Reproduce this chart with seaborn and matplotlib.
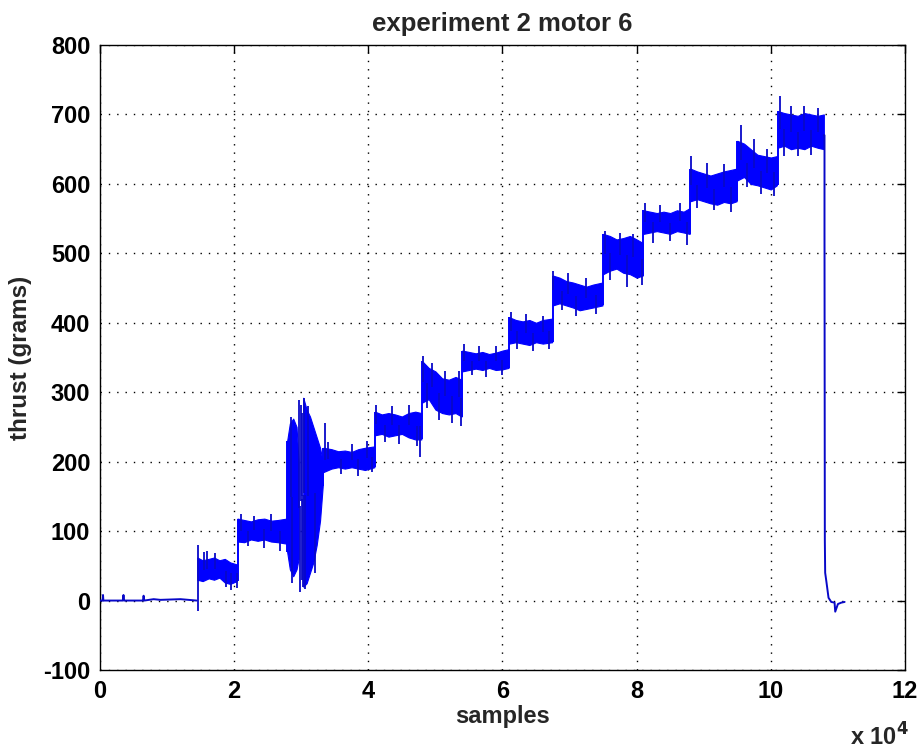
import numpy as np
import pandas as pd
import matplotlib
matplotlib.use("Agg")
import matplotlib.pyplot as plt
import seaborn as sns

# ---------------- data ----------------
# flat idle trace at the start (samples, grams)
idle_x = [0, 400, 450, 500, 3400, 3500, 3600, 6400, 6500, 6600, 8000, 9000, 12000, 14400]
idle_y = [0, 0, 8, 0, 0, 8, 0, 0, 7, 0, 2, 1, 2, 0]

# noisy band envelope per thrust level (x in thousands of samples)
env_level = [1] * 8 + [2] * 8 + [3] * 5 + [4] * 7 + [5] * 8 + [6] * 8 + [7] * 7 + \
            [8] * 8 + [9] * 7 + [10] * 8 + [11] * 7 + [12] * 8 + [13] * 8 + [14] * 7 + [15] * 8
env_kx = [14.5, 15.3, 16.2, 17.0, 17.8, 18.6, 19.4, 20.4,
          20.5, 21.5, 22.5, 23.5, 24.5, 25.5, 26.5, 27.8,
          27.9, 28.3, 28.8, 29.3, 29.6,
          30.3, 30.8, 31.3, 31.8, 32.3, 32.8, 33.2,
          33.3, 34.5, 35.5, 36.5, 37.5, 38.5, 39.5, 40.9,
          41.0, 42.0, 43.0, 44.0, 45.0, 46.0, 47.0, 47.9,
          48.0, 49.0, 50.0, 51.0, 52.0, 53.0, 53.9,
          54.0, 55.0, 56.0, 57.0, 58.0, 59.0, 60.0, 60.9,
          61.0, 62.0, 63.0, 64.0, 65.0, 66.0, 67.4,
          67.5, 68.5, 69.5, 70.5, 71.5, 72.5, 73.5, 74.9,
          75.0, 76.0, 77.0, 78.0, 79.0, 80.0, 80.9,
          81.0, 82.0, 83.0, 84.0, 85.0, 86.0, 87.0, 87.9,
          88.0, 89.0, 90.0, 91.0, 92.0, 93.0, 94.0, 94.9,
          95.0, 96.0, 97.0, 98.0, 99.0, 100.0, 100.9,
          101.0, 102.0, 103.0, 104.0, 105.0, 106.0, 107.0, 107.9]
env_lo = [30, 28, 32, 30, 33, 26, 24, 28,
          85, 84, 88, 86, 88, 85, 84, 82,
          70, 45, 35, 45, 60,
          20, 25, 40, 55, 80, 115, 165,
          185, 190, 192, 190, 192, 190, 188, 192,
          238, 240, 236, 238, 240, 235, 232, 232,
          285, 290, 275, 270, 268, 270, 265,
          330, 332, 334, 332, 335, 332, 333, 335,
          370, 372, 370, 368, 372, 370, 372,
          425, 428, 425, 422, 418, 420, 422, 425,
          470, 475, 478, 472, 470, 465, 468,
          528, 530, 532, 530, 528, 532, 530, 528,
          575, 578, 575, 572, 570, 574, 572, 575,
          605, 610, 600, 598, 595, 592, 598,
          652, 655, 650, 652, 650, 655, 652, 650]
env_hi = [62, 58, 60, 62, 58, 60, 55, 52,
          118, 116, 114, 117, 118, 115, 116, 118,
          230, 255, 262, 250, 200,
          292, 275, 265, 250, 235, 220, 200,
          220, 218, 215, 216, 214, 218, 220, 222,
          272, 268, 270, 268, 265, 270, 272, 270,
          345, 335, 330, 320, 318, 322, 318,
          360, 358, 356, 358, 355, 357, 360, 362,
          408, 404, 402, 404, 400, 404, 406,
          468, 465, 460, 458, 455, 452, 455, 458,
          528, 525, 520, 522, 525, 520, 515,
          562, 560, 558, 560, 558, 562, 560, 565,
          622, 618, 615, 612, 615, 618, 620, 622,
          662, 658, 650, 642, 640, 638, 640,
          705, 702, 700, 698, 702, 700, 698, 700]

# isolated spikes sticking out of the band (thousands of samples, grams)
spike_kx = [14.6, 14.55, 15.5, 16.0, 17.2, 18.8, 19.6, 20.4,
            21.0, 22.0, 23.0, 24.5, 25.5, 26.8,
            28.4, 28.6, 29.7, 29.75, 29.95, 30.05, 30.15, 30.2,
            30.4, 30.6, 31.0, 32.0, 33.5,
            34.0, 36.0, 37.5, 38.5, 39.8, 40.5,
            41.2, 42.5, 43.5, 44.5, 46.0, 47.2, 47.7,
            48.1, 48.8, 49.5, 50.5, 51.5, 52.5, 53.5, 53.8,
            54.2, 55.5, 56.5, 57.5, 59.0, 60.0,
            61.2, 62.2, 63.5, 64.5, 66.0, 67.0,
            67.6, 68.8, 69.8, 71.0, 72.5, 74.0,
            75.3, 76.0, 77.5, 78.5, 79.5, 80.8,
            81.3, 82.5, 83.5, 85.0, 86.5, 87.5,
            88.1, 89.0, 90.5, 91.5, 93.0, 94.0,
            95.5, 96.5, 97.5, 98.5, 99.5, 100.5,
            101.3, 102.0, 103.0, 104.0, 105.0, 106.0, 107.0]
spike_y = [80, -15, 70, 72, 68, 20, 15, 18,
           125, 78, 122, 75, 124, 72,
           265, 26, 289, 13, 282, 30, 270, 20,
           292, 16, 280, 40, 256,
           228, 182, 226, 180, 230, 185,
           282, 228, 280, 225, 282, 222, 207,
           352, 278, 342, 260, 330, 255, 330, 252,
           370, 325, 366, 322, 366, 325,
           415, 362, 412, 360, 410, 362,
           475, 418, 472, 410, 465, 412,
           532, 462, 530, 452, 528, 455,
           572, 515, 570, 518, 572, 512,
           640, 565, 630, 562, 628, 560,
           685, 595, 665, 585, 650, 582,
           727, 640, 712, 640, 712, 642, 710]

# shut-down trace at the end (samples, grams)
tail_x = [107900, 108000, 108000, 108050, 108100, 108300, 108600, 109000, 109500,
          109600, 110000, 110500, 111000]
tail_y = [670, 670, 534, 87, 40, 26, 4, -2, -3, -16, -5, -3, -2]

xtick_vals = [0, 2, 4, 6, 8, 10, 12]
ytick_vals = [-100, 0, 100, 200, 300, 400, 500, 600, 700, 800]

title_text = "experiment 2 motor 6"
xlabel_text = "samples"
ylabel_text = "thrust (grams)"

# ---------------- style ----------------
sns.set_style("white")
plt.rcParams["font.family"] = ["Liberation Sans", "DejaVu Sans"]
plt.rcParams["font.weight"] = "bold"

blue = "#0000ff"
dark = "#0808c8"
fig = plt.figure(figsize=(9.2, 7.49), dpi=100)
ax = fig.add_axes([100 / 920, 1 - 670 / 749, 805 / 920, 625 / 749])

ex = np.array(env_kx) * 1000.0
lo = np.array(env_lo, dtype=float)
hi = np.array(env_hi, dtype=float)
lv = np.array(env_level)

# band per level, plus vertical connectors between adjacent levels
levels = list(dict.fromkeys(env_level))
prev = None
for L in levels:
    m = lv == L
    ax.fill_between(ex[m], lo[m], hi[m], color=blue, linewidth=0.8,
                    edgecolor=blue, zorder=3)
    if prev is not None and ex[m][0] - prev[0] < 300:
        ax.vlines(ex[m][0], min(prev[1], lo[m][0]), max(prev[2], hi[m][0]),
                  color=blue, linewidth=1.4, zorder=3)
    prev = (ex[m][-1], lo[m][-1], hi[m][-1])

# spikes from the band center
sx = np.array(spike_kx) * 1000.0
base = (np.interp(sx, ex, lo) + np.interp(sx, ex, hi)) / 2
sy = np.array(spike_y, dtype=float)
ax.vlines(sx, np.minimum(base, sy), np.maximum(base, sy),
          color=dark, linewidth=1.3, zorder=3)

# thin traces through seaborn
idle_df = pd.DataFrame({"samples": idle_x, "thrust": idle_y})
tail_df = pd.DataFrame({"samples": tail_x, "thrust": tail_y})
sns.lineplot(data=idle_df, x="samples", y="thrust", ax=ax, color=dark,
             linewidth=1.4, sort=False, estimator=None, zorder=4)
sns.lineplot(data=tail_df, x="samples", y="thrust", ax=ax, color=dark,
             linewidth=1.4, sort=False, estimator=None, zorder=4)

# axes
ax.set_xlim(0, 120000)
ax.set_ylim(-100, 800)
ax.set_xticks([v * 1e4 for v in xtick_vals])
ax.set_xticklabels([str(v) for v in xtick_vals])
ax.set_yticks(ytick_vals)
ax.set_yticklabels([str(v) for v in ytick_vals])
ax.tick_params(direction="in", length=6, width=1, top=True, right=True,
               labelsize=17, pad=7, colors="black")
for lab in ax.get_xticklabels() + ax.get_yticklabels():
    lab.set_fontweight("bold")
ax.grid(True, linestyle=(0, (1, 5)), color="black", linewidth=1.0)
for s in ax.spines.values():
    s.set_color("black")
    s.set_linewidth(1.0)
    s.set_visible(True)

ax.set_xlabel(xlabel_text, fontsize=17, fontweight="bold", labelpad=2)
ax.set_ylabel(ylabel_text, fontsize=17.5, fontweight="bold", labelpad=8)
ax.set_title(title_text, fontsize=18.5, fontweight="bold", pad=10)
fig.text(850 / 920, 1 - 737 / 749, r"x 10$^{\mathbf{4}}$", fontsize=17, fontweight="bold",
         ha="left", va="center")

fig.savefig("out.png", dpi=100)
